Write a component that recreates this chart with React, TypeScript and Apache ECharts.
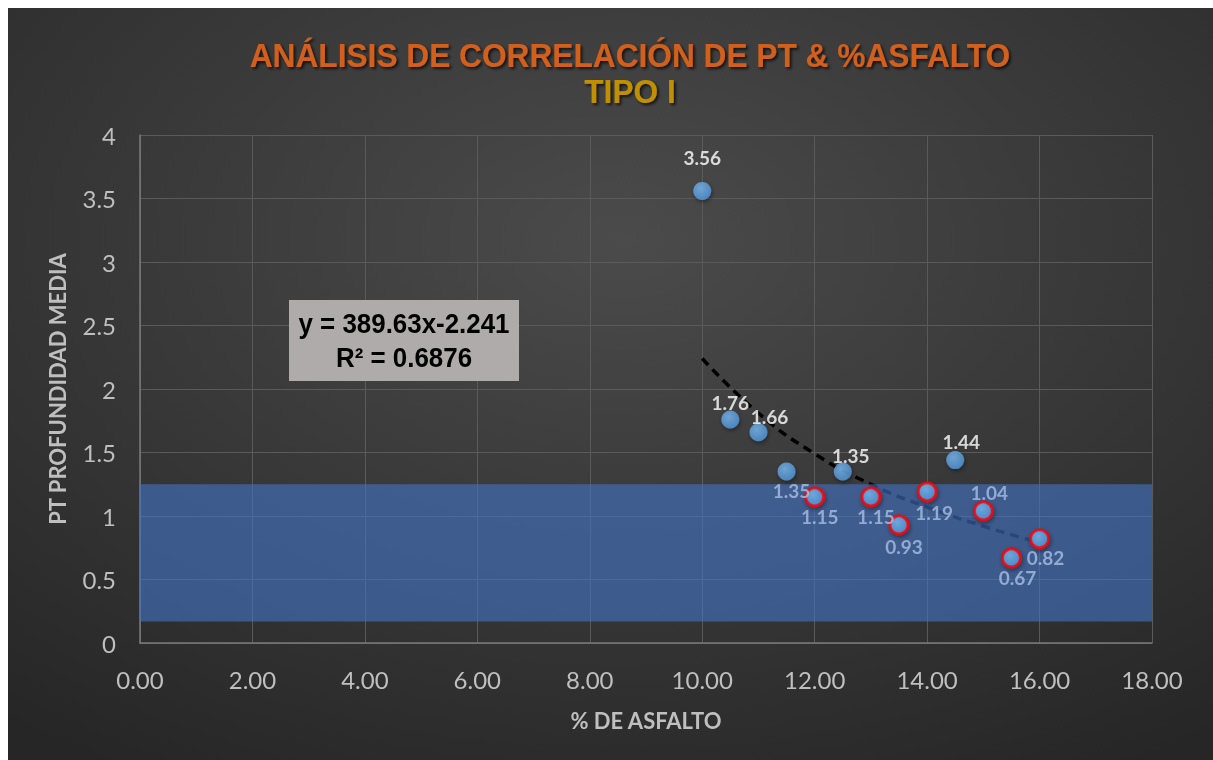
import React, { useEffect, useRef } from "react";
import * as echarts from "echarts";

// ---- data ----
const asphaltPct = [10, 10.5, 11, 11.5, 12, 12.5, 13, 13.5, 14, 14.5, 15, 15.5, 16];
const ptDepth = [3.56, 1.76, 1.66, 1.35, 1.15, 1.35, 1.15, 0.93, 1.19, 1.44, 1.04, 0.67, 0.82];
const flagged = [false, false, false, false, true, false, true, true, true, false, true, true, true];
const trendX = [10, 11, 12, 13, 14, 15, 16];
const trendY = [2.24, 1.81, 1.49, 1.25, 1.07, 0.92, 0.79];
const bandRange = [0.17, 1.25];
const xRange = [0, 18];
const yRange = [0, 4];
const titleText = "ANÁLISIS DE CORRELACIÓN DE PT & %ASFALTO";
const subtitleText = "TIPO I";
const equationLines = ["y = 389.63x-2.241", "R² = 0.6876"];
const xAxisName = "% DE ASFALTO";
const yAxisName = "PT PROFUNDIDAD MEDIA";

// label placement per point: [position, dx, dy, inBand]
const labelPlacement: [string, number, number, boolean][] = [
  ["top", 0, -10, false],
  ["top", 0, 7, false],
  ["top", 11, 8, false],
  ["bottom", 5, -5, true],
  ["bottom", 5, -5, true],
  ["top", 8, 7, false],
  ["bottom", 5, -5, true],
  ["bottom", 5, -3, true],
  ["bottom", 7, -4, true],
  ["top", 6, 5, false],
  ["top", 6, 7, true],
  ["bottom", 6, -5, true],
  ["bottom", 6, -6, true],
];

export default function App() {
  const ref = useRef<HTMLDivElement>(null);
  useEffect(() => {
    document.documentElement.style.overflow = "hidden";
    document.body.style.overflow = "hidden";
    const chart = echarts.init(ref.current!, null, { renderer: "svg" });
    const tickColor = "#bfbfbf";
    const scatterData = asphaltPct.map((x, i) => {
      const [pos, dx, dy, inBand] = labelPlacement[i];
      return {
        value: [x, ptDepth[i]],
        itemStyle: flagged[i]
          ? { borderColor: "#ff0000", borderWidth: 3 }
          : { borderWidth: 0 },
        label: {
          position: pos,
          offset: [dx, dy],
          color: inBand ? "#a9bfe4" : "#ffffff",
        },
      };
    });
    const titleFont = "bold 33px 'Liberation Sans', Arial, sans-serif";
    chart.setOption({
      animation: false,
      backgroundColor: new echarts.graphic.RadialGradient(0.5, 0.3, 0.8, [
        { offset: 0, color: "#4b4b4b" },
        { offset: 1, color: "#262626" },
      ]),
      grid: { left: 132, top: 127, width: 1012, height: 508 },
      xAxis: {
        type: "value",
        min: xRange[0],
        max: xRange[1],
        interval: 2,
        name: xAxisName,
        nameLocation: "middle",
        nameGap: 66,
        nameTextStyle: { color: tickColor, fontFamily: "Lato", fontWeight: "bold", fontSize: 22 },
        axisLine: { show: true, lineStyle: { color: "#7a7a7a", width: 1.5 } },
        axisTick: { show: false },
        axisLabel: {
          color: tickColor,
          fontFamily: "Lato",
          fontSize: 24,
          margin: 24,
          formatter: (v: number) => v.toFixed(2),
        },
        splitLine: { show: true, lineStyle: { color: "#5a5a5a", width: 1 } },
      },
      yAxis: {
        type: "value",
        min: yRange[0],
        max: yRange[1],
        interval: 0.5,
        name: yAxisName,
        nameLocation: "middle",
        nameGap: 72,
        nameRotate: 90,
        nameTextStyle: { color: tickColor, fontFamily: "Lato", fontWeight: "bold", fontSize: 22 },
        axisLine: { show: true, lineStyle: { color: "#7a7a7a", width: 1.5 } },
        axisTick: { show: false },
        axisLabel: { color: tickColor, fontFamily: "Lato", fontSize: 24, margin: 24 },
        splitLine: { show: true, lineStyle: { color: "#5a5a5a", width: 1 } },
      },
      series: [
        {
          type: "line",
          z: 2,
          data: trendX.map((x, i) => [x, trendY[i]]),
          smooth: true,
          symbol: "none",
          silent: true,
          lineStyle: { color: "#000000", width: 3.5, type: [9, 6] },
        },
        {
          type: "line",
          z: 3,
          data: [],
          silent: true,
          markArea: {
            silent: true,
            z: 3,
            itemStyle: { color: "rgba(68,114,196,0.62)" },
            data: [[{ xAxis: xRange[0], yAxis: bandRange[0] }, { xAxis: xRange[1], yAxis: bandRange[1] }]],
          },
        },
        {
          type: "scatter",
          z: 4,
          symbolSize: 18,
          data: scatterData,
          itemStyle: {
            color: new echarts.graphic.RadialGradient(0.4, 0.35, 0.7, [
              { offset: 0, color: "#7ab9f0" },
              { offset: 1, color: "#4f93d6" },
            ]),
            shadowColor: "rgba(0,0,0,0.5)",
            shadowBlur: 4,
            shadowOffsetX: 1,
            shadowOffsetY: 2,
          },
          label: {
            show: true,
            fontFamily: "Lato",
            fontWeight: "bold",
            fontSize: 19,
            distance: 5,
            formatter: (p: any) => p.value[1].toFixed(2),
          },
        },
      ],
      graphic: [
        {
          type: "text",
          z: 10,
          x: 622,
          y: 48,
          scaleX: 0.96,
          style: {
            text: titleText,
            x: 0,
            y: 0,
            textAlign: "center",
            textVerticalAlign: "middle",
            fill: "#d2601a",
            font: titleFont,
            textShadowColor: "rgba(0,0,0,0.7)",
            textShadowBlur: 3,
            textShadowOffsetX: 2,
            textShadowOffsetY: 2,
          },
        },
        {
          type: "text",
          z: 10,
          x: 622,
          y: 84,
          scaleX: 0.96,
          style: {
            text: subtitleText,
            x: 0,
            y: 0,
            textAlign: "center",
            textVerticalAlign: "middle",
            fill: "#c09000",
            font: "bold 33px 'Liberation Sans', Arial, sans-serif",
            textShadowColor: "rgba(0,0,0,0.7)",
            textShadowBlur: 3,
            textShadowOffsetX: 2,
            textShadowOffsetY: 2,
          },
        },
        {
          type: "rect",
          z: 10,
          shape: { x: 281, y: 292, width: 230, height: 81 },
          style: { fill: "#afabab" },
        },
        {
          type: "text",
          z: 11,
          x: 396,
          y: 316,
          scaleX: 0.96,
          style: {
            text: equationLines[0],
            x: 0,
            y: 0,
            textAlign: "center",
            textVerticalAlign: "middle",
            fill: "#000000",
            font: "bold 27px 'Liberation Sans', Arial, sans-serif",
          },
        },
        {
          type: "text",
          z: 11,
          x: 396,
          y: 350,
          scaleX: 0.96,
          style: {
            text: equationLines[1],
            x: 0,
            y: 0,
            textAlign: "center",
            textVerticalAlign: "middle",
            fill: "#000000",
            font: "bold 27px 'Liberation Sans', Arial, sans-serif",
          },
        },
      ],
    });
    return () => chart.dispose();
  }, []);
  return (
    <div
      ref={ref}
      style={{ position: "fixed", left: 8, top: 8, width: 1225, height: 772 }}
    />
  );
}
